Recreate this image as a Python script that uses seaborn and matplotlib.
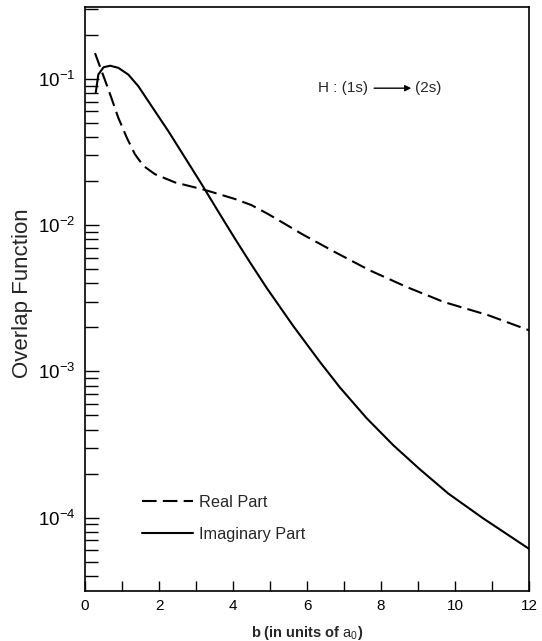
import matplotlib
matplotlib.use("Agg")
import matplotlib.pyplot as plt
import seaborn as sns
import pandas as pd
import numpy as np
from matplotlib.ticker import LogLocator, FixedLocator, NullFormatter
from matplotlib.lines import Line2D

# --- data ---
real_b = [0.27, 0.45, 0.68, 0.90, 1.13, 1.35, 1.58, 1.89, 2.43, 3.24, 4.05, 4.5, 4.95,
          5.4, 5.86, 6.76, 7.7, 8.7, 9.7, 10.9, 12.0]
real_val = [0.150, 0.113, 0.0783, 0.0542, 0.0396, 0.0305, 0.0254, 0.0223, 0.0196, 0.0174,
            0.0151, 0.0137, 0.0119, 0.0102, 0.0087, 0.00653, 0.0049, 0.00377, 0.00298,
            0.00242, 0.00191]

imag_b = [0.29, 0.36, 0.50, 0.68, 0.90, 1.17, 1.44, 1.80, 2.25, 2.70, 3.15, 3.60, 4.05,
          4.46, 4.91, 5.63, 6.35, 6.89, 7.61, 8.33, 9.05, 9.82, 10.76, 12.0]
imag_val = [0.0803, 0.107, 0.120, 0.123, 0.119, 0.107, 0.0892, 0.0651, 0.0440, 0.0290,
            0.0191, 0.0124, 0.0081, 0.00556, 0.00372, 0.00204, 0.00116, 0.000776,
            0.000479, 0.000313, 0.000214, 0.000146, 0.0000989, 0.0000612]

labels = ["Real Part", "Imaginary Part"]
x_ticks = [0, 2, 4, 6, 8, 10, 12]

df = pd.concat([
    pd.DataFrame({"b": real_b, "val": real_val, "part": labels[0]}),
    pd.DataFrame({"b": imag_b, "val": imag_val, "part": labels[1]}),
], ignore_index=True)

sns.set_theme(style="ticks")
plt.rcParams["font.family"] = ["Liberation Sans", "DejaVu Sans"]
plt.rcParams["mathtext.fontset"] = "custom"
plt.rcParams["mathtext.rm"] = "Liberation Sans"
plt.rcParams["mathtext.it"] = "Liberation Sans"

fig = plt.figure(figsize=(5.42, 6.41), dpi=100)
ax = fig.add_axes([85 / 542, 1 - 591 / 641, 444 / 542, 584 / 641])

DASH = (7, 3)
sns.lineplot(data=df, x="b", y="val", style="part", hue="part",
             palette={labels[0]: "black", labels[1]: "black"},
             dashes={labels[0]: DASH, labels[1]: ""},
             linewidth=1.5, ax=ax, sort=False, estimator=None, legend=False)

ax.set_yscale("log")
ax.set_xlim(0, 12)
ax.set_ylim(3.15e-5, 3.1e-1)

ax.xaxis.set_major_locator(FixedLocator(x_ticks))
ax.xaxis.set_minor_locator(FixedLocator([1, 3, 5, 7, 9, 11]))
ax.set_xticklabels([str(t) for t in x_ticks])
ax.yaxis.set_major_locator(LogLocator(base=10, numticks=10))
ax.yaxis.set_minor_locator(LogLocator(base=10, subs=np.arange(2, 10), numticks=10))
ax.yaxis.set_minor_formatter(NullFormatter())

ax.tick_params(axis="both", which="both", direction="in", colors="black", width=1.0)
ax.tick_params(axis="y", which="major", length=10, pad=7, labelsize=13.5)
ax.tick_params(axis="y", which="minor", length=9)
ax.tick_params(axis="x", which="both", length=7, pad=6, labelsize=11)

for s in ax.spines.values():
    s.set_visible(True)
    s.set_color("black")
    s.set_linewidth(1.2)

ax.set_ylabel("Overlap Function", fontsize=16)
ax.yaxis.set_label_coords(-0.117, 0.51)
ax.set_xlabel(r"b (in units of $a_0$)", fontsize=10.5, fontweight="bold", labelpad=8)

# legend
handles = [Line2D([], [], color="black", lw=1.5, dashes=DASH),
           Line2D([], [], color="black", lw=1.5)]
ax.legend(handles, labels, loc="upper left", bbox_to_anchor=(0.128, 0.165),
          frameon=False, fontsize=11.7, handlelength=3.14, handletextpad=0.37,
          labelspacing=1.05, borderpad=0, borderaxespad=0)

# annotation
ax.text(0.525, 0.861, "H : (1s)", transform=ax.transAxes, ha="left", va="center", fontsize=11)
ax.annotate("", xy=(0.741, 0.861), xytext=(0.645, 0.861), xycoords="axes fraction",
            arrowprops=dict(arrowstyle="-|>", color="black", lw=1.0, mutation_scale=9))
ax.text(0.744, 0.861, "(2s)", transform=ax.transAxes, ha="left", va="center", fontsize=11)

fig.savefig("out.png", dpi=100)
